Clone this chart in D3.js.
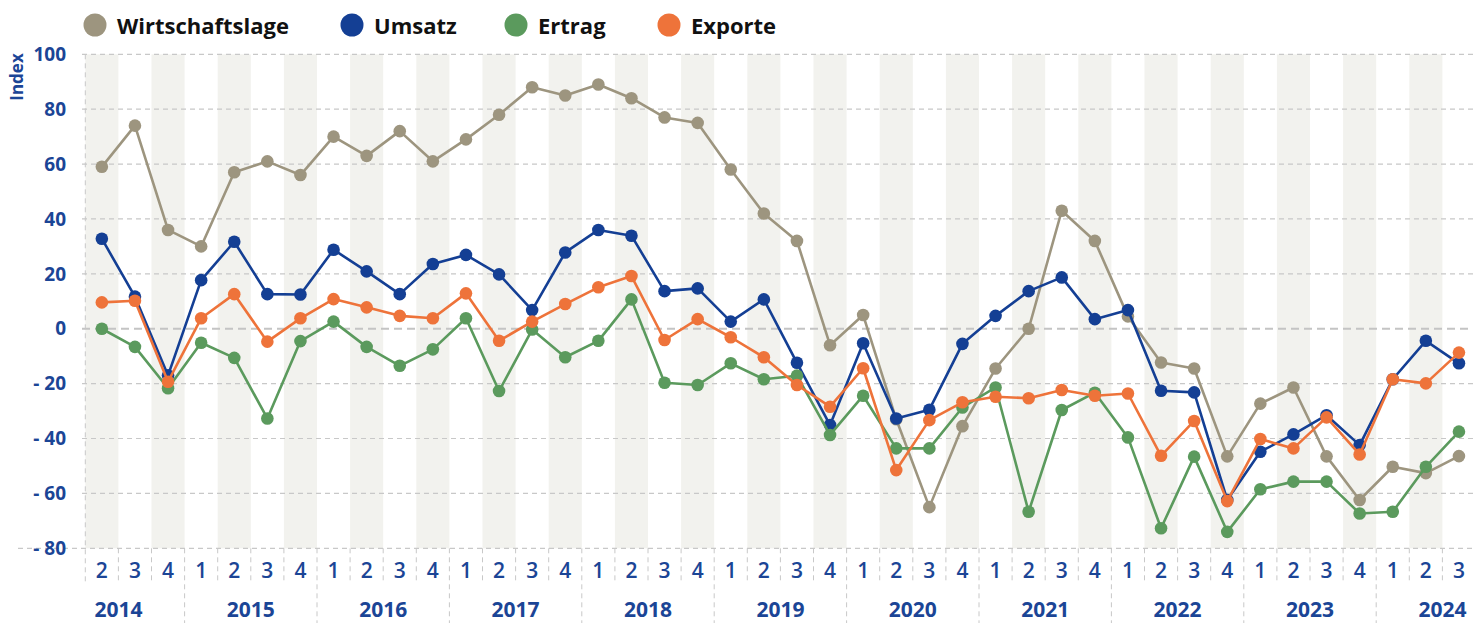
<!DOCTYPE html>
<html>
<head>
<meta charset="utf-8">
<style>
  body { margin: 0; background: #fff; }
  svg { display: block; font-family: 'Open Sans', 'Noto Sans', sans-serif; }
</style>
</head>
<body>
<svg id="chart" width="1473" height="623"></svg>
<script src="https://cdn.jsdelivr.net/npm/d3@7"></script>
<script>
// quarters shown on the x axis, "year-quarter"
const periods = [
  '2014-2', '2014-3', '2014-4',
  '2015-1', '2015-2', '2015-3', '2015-4',
  '2016-1', '2016-2', '2016-3', '2016-4',
  '2017-1', '2017-2', '2017-3', '2017-4',
  '2018-1', '2018-2', '2018-3', '2018-4',
  '2019-1', '2019-2', '2019-3', '2019-4',
  '2020-1', '2020-2', '2020-3', '2020-4',
  '2021-1', '2021-2', '2021-3', '2021-4',
  '2022-1', '2022-2', '2022-3', '2022-4',
  '2023-1', '2023-2', '2023-3', '2023-4',
  '2024-1', '2024-2', '2024-3',
];

const wirtschaftslage = [
  59, 74, 36,
  30, 57, 61, 56,
  70, 63, 72, 61,
  69, 78, 88, 85,
  89, 84, 77, 75,
  58, 42, 32, -6,
  5, -33, -65, -35.5,
  -14.5, 0, 43, 32,
  4.5, -12.3, -14.5, -46.5,
  -27.3, -21.4, -46.5, -62.4,
  -50.3, -52.6, -46.4,
];
const umsatz = [
  32.8, 11.7, -17,
  17.7, 31.7, 12.6, 12.5,
  28.8, 20.9, 12.6, 23.6,
  26.9, 19.8, 6.8, 27.8,
  36, 33.9, 13.7, 14.7,
  2.6, 10.7, -12.4, -35.1,
  -5.3, -32.7, -29.5, -5.5,
  4.7, 13.7, 18.7, 3.5,
  6.8, -22.6, -23.2, -62.4,
  -44.8, -38.5, -31.5, -42.4,
  -18.4, -4.4, -12.6,
];
const ertrag = [
  0, -6.6, -21.7,
  -5.1, -10.6, -32.7, -4.5,
  2.6, -6.6, -13.5, -7.5,
  3.8, -22.7, -0.3, -10.4,
  -4.4, 10.7, -19.7, -20.5,
  -12.6, -18.4, -17.1, -38.7,
  -24.4, -43.6, -43.6, -28.7,
  -21.4, -66.7, -29.6, -23.3,
  -39.6, -72.7, -46.6, -74,
  -58.5, -55.7, -55.7, -67.3,
  -66.7, -50.3, -37.5,
];
const exporte = [
  9.6, 10.2, -19.3,
  3.8, 12.6, -4.7, 3.8,
  10.8, 7.8, 4.7, 3.8,
  12.9, -4.4, 2.6, 9,
  15.1, 19.2, -4.1, 3.5,
  -3.1, -10.4, -20.5, -28.4,
  -14.4, -51.5, -33.3, -26.8,
  -24.8, -25.3, -22.3, -24.4,
  -23.6, -46.3, -33.6, -62.8,
  -40.2, -43.6, -32.3, -45.8,
  -18.4, -19.9, -8.7,
];

const yTicks = [100, 80, 60, 40, 20, 0, -20, -40, -60, -80];

const series = [
  { name: 'Wirtschaftslage', values: wirtschaftslage, color: '#9d957f' },
  { name: 'Umsatz', values: umsatz, color: '#143f94' },
  { name: 'Ertrag', values: ertrag, color: '#5b9a5d' },
  { name: 'Exporte', values: exporte, color: '#ee733a' },
];
const legendX = [95, 352, 516, 669];

const blue = '#1b4596';
const svg = d3.select('#chart');

const x = d3.scaleBand().domain(periods).range([85.3, 85.3 + periods.length * 33.1]);
const y = d3.scaleLinear().domain([-80, 100]).range([548.3, 54.3]);
const bw = x.bandwidth();
const cx = (p) => x(p) + bw / 2;

// alternating shaded columns
svg.append('g')
  .selectAll('rect')
  .data(periods.filter((p, i) => i % 2 === 0))
  .join('rect')
  .attr('x', (p) => x(p))
  .attr('y', y(100))
  .attr('width', bw)
  .attr('height', y(-80) - y(100))
  .attr('fill', '#f2f2ee');

// horizontal grid
svg.append('g')
  .selectAll('line')
  .data(yTicks)
  .join('line')
  .attr('x1', (d) => (d === -80 ? 18 : 82))
  .attr('x2', 1473)
  .attr('y1', (d) => y(d))
  .attr('y2', (d) => y(d))
  .attr('stroke', (d) => (d === 0 ? '#c4c4c4' : '#c8c8c8'))
  .attr('stroke-width', (d) => (d === 0 ? 2 : 1.2))
  .attr('stroke-dasharray', (d) => (d === 0 ? '8,5' : '5,4'));

// left border of the plot
svg.append('line')
  .attr('x1', x(periods[0])).attr('x2', x(periods[0]))
  .attr('y1', y(100)).attr('y2', 583)
  .attr('stroke', '#c8c8c8').attr('stroke-dasharray', '5,4');

// y tick labels
svg.append('g')
  .selectAll('text')
  .data(yTicks)
  .join('text')
  .attr('x', 66)
  .attr('y', (d) => y(d))
  .attr('dy', '0.35em')
  .attr('text-anchor', 'end')
  .attr('fill', blue)
  .attr('font-size', 19)
  .attr('font-weight', 700)
  .text((d) => (d < 0 ? `- ${-d}` : d));

svg.append('text')
  .attr('transform', 'translate(23,77) rotate(-90)')
  .attr('text-anchor', 'middle')
  .attr('fill', blue)
  .attr('font-size', 17)
  .attr('font-weight', 700)
  .text('Index');

// x axis separators: quarter lines short, year lines down to the bottom
const axisTop = y(-80);
svg.append('g')
  .selectAll('line')
  .data(periods.slice(1).concat(['end']))
  .join('line')
  .attr('x1', (p, i) => x(periods[i]) + bw)
  .attr('x2', (p, i) => x(periods[i]) + bw)
  .attr('y1', axisTop)
  .attr('y2', (p) => (p.endsWith('-1') ? 623 : 583))
  .attr('stroke', '#c8c8c8')
  .attr('stroke-dasharray', '5,4');

svg.append('g')
  .selectAll('text')
  .data(periods)
  .join('text')
  .attr('x', cx)
  .attr('y', 578)
  .attr('text-anchor', 'middle')
  .attr('fill', blue)
  .attr('font-size', 21)
  .attr('font-weight', 600)
  .text((p) => p.split('-')[1]);

// year labels sit on the boundary between Q2 and Q3
const years = Array.from(new Set(periods.map((p) => p.split('-')[0])));
svg.append('g')
  .selectAll('text')
  .data(years)
  .join('text')
  .attr('x', (yr) => x(`${yr}-3`))
  .attr('y', 617)
  .attr('text-anchor', 'middle')
  .attr('fill', blue)
  .attr('font-size', 21)
  .attr('font-weight', 700)
  .text((yr) => yr);

// lines and dots
const line = d3.line()
  .x((d, i) => cx(periods[i]))
  .y((d) => y(d));

series.forEach((s) => {
  const g = svg.append('g');
  g.append('path')
    .attr('d', line(s.values))
    .attr('fill', 'none')
    .attr('stroke', s.color)
    .attr('stroke-width', 2.6)
    .attr('stroke-linejoin', 'round');
  g.selectAll('circle')
    .data(s.values)
    .join('circle')
    .attr('cx', (d, i) => cx(periods[i]))
    .attr('cy', (d) => y(d))
    .attr('r', 6.3)
    .attr('fill', s.color);
});

// legend
const legend = svg.append('g')
  .selectAll('g')
  .data(series)
  .join('g')
  .attr('transform', (d, i) => `translate(${legendX[i]},25)`);
legend.append('circle').attr('r', 11.5).attr('fill', (d) => d.color);
legend.append('text')
  .attr('x', 22)
  .attr('y', 9.3)
  .attr('fill', '#111')
  .attr('font-size', 22)
  .attr('font-weight', 700)
  .text((d) => d.name);
</script>
</body>
</html>
